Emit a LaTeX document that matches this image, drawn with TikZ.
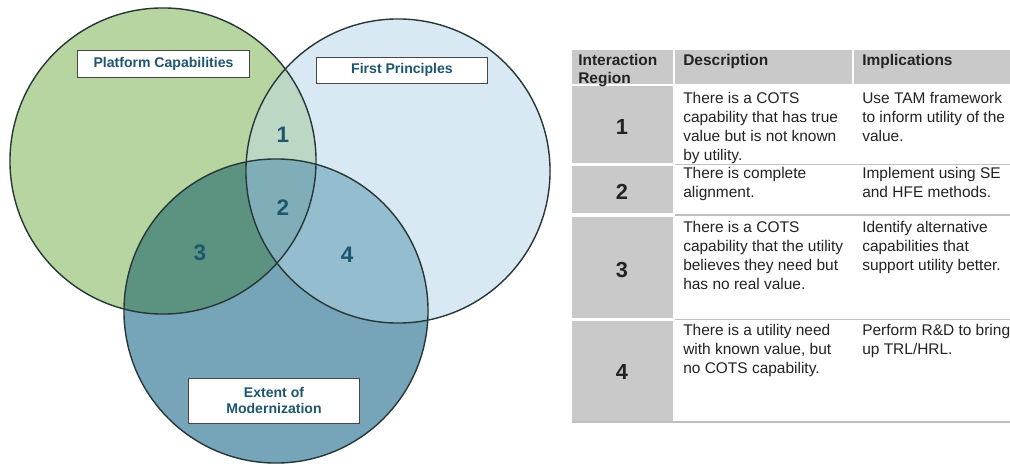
\documentclass[tikz,border=0pt]{standalone}
\usepackage{fontspec}
\setmainfont{Liberation Sans}
\usepackage{tikz}
\usetikzlibrary{positioning}

\definecolor{greenset}{RGB}{182,213,160}
\definecolor{blueset}{RGB}{216,233,243}
\definecolor{modset}{RGB}{118,164,184}
\definecolor{greenblue}{RGB}{188,215,196}
\definecolor{greenmod}{RGB}{92,146,128}
\definecolor{bluemod}{RGB}{148,190,207}
\definecolor{allthree}{RGB}{128,174,184}
\definecolor{ringline}{RGB}{40,55,55}
\definecolor{tagline}{RGB}{70,70,70}
\definecolor{venntext}{RGB}{30,86,112}
\definecolor{celltext}{RGB}{35,35,35}
\definecolor{tablegray}{RGB}{201,201,201}
\definecolor{rowline}{RGB}{192,192,192}

\begin{document}
\begin{tikzpicture}[x=0.025cm,y=-0.025cm,
	ring/.style={draw=ringline,line width=1pt},
	tag/.style={draw=tagline,fill=white,line width=0.6pt,minimum width=4.28cm,inner sep=1pt,
		font=\bfseries\fontsize{10}{11.4}\selectfont,text=venntext,align=center},
	region/.style={font=\bfseries\fontsize{16}{18}\selectfont,text=venntext},
	cell/.style={anchor=north west,inner sep=0,align=left,
		font=\fontsize{11}{13.3}\selectfont,text=celltext},
	head/.style={cell,font=\bfseries\fontsize{11}{13}\selectfont},
	rownum/.style={font=\bfseries\fontsize{15.5}{18}\selectfont,text=celltext}]
	\useasboundingbox (0,0) rectangle (1010,464);
	\fill[white] (0,0) rectangle (1010,464);
	
	%centres
	\coordinate (pc) at (163,161);
	\coordinate (fp) at (398,171);
	\coordinate (em) at (276,311);
	
	%circles
	\fill[greenset] (pc) circle[radius=3.825cm];
	\fill[blueset] (fp) circle[radius=3.8cm];
	\fill[modset] (em) circle[radius=3.8cm];
	\begin{scope}	%region 1
		\clip (pc) circle[radius=3.825cm];
		\fill[greenblue] (fp) circle[radius=3.8cm];
	\end{scope}
	\begin{scope}	%region 3
		\clip (pc) circle[radius=3.825cm];
		\fill[greenmod] (em) circle[radius=3.8cm];
	\end{scope}
	\begin{scope}	%region 4
		\clip (fp) circle[radius=3.8cm];
		\fill[bluemod] (em) circle[radius=3.8cm];
	\end{scope}
	\begin{scope}	%region 2
		\clip (pc) circle[radius=3.825cm];
		\clip (fp) circle[radius=3.8cm];
		\fill[allthree] (em) circle[radius=3.8cm];
	\end{scope}
	\draw[ring] (pc) circle[radius=3.825cm];
	\draw[ring] (fp) circle[radius=3.8cm];
	\draw[ring] (em) circle[radius=3.8cm];
	
	%set labels
	\node[tag,minimum height=0.675cm] (pcap) at (163.5,63.5) {Platform Capabilities};
	\node[tag,minimum height=0.65cm] (fprin) at (402,70) {First Principles};
	\node[tag,minimum height=1.125cm] (emod) at (274,400.5) {Extent of\\Modernization};
	
	%region numbers
	\node[region] (r1) at (283,135) {1};
	\node[region] (r2) at (283,208) {2};
	\node[region] (r3) at (200,253) {3};
	\node[region] (r4) at (347,255) {4};
	
	%table - grey cells
	\fill[tablegray] (572,50) rectangle (673,84);
	\fill[tablegray] (675,50) rectangle (852,84);
	\fill[tablegray] (854,50) rectangle (1010,84);
	\fill[tablegray] (572,86) rectangle (673,163);
	\fill[tablegray] (572,166) rectangle (673,213);
	\fill[tablegray] (572,217) rectangle (673,318);
	\fill[tablegray] (572,321) rectangle (673,421);
	%table - row lines
	\draw[rowline,line width=0.8pt] (675,164.5) -- (1010,164.5);
	\draw[rowline,line width=0.8pt] (675,215) -- (1010,215);
	\draw[rowline,line width=0.8pt] (675,319.5) -- (1010,319.5);
	\draw[rowline,line width=0.8pt] (572,422) -- (1010,422);
	
	%table - header
	\node[head] (hreg) at (578,54) {Interaction\\Region};
	\node[head] (hdesc) at (683,54) {Description};
	\node[head] (himpl) at (862,54) {Implications};
	
	%table - rows
	\node[rownum] (n1) at (622,127) {1};
	\node[cell] (d1) at (683,92.5) {There is a COTS\\capability that has true\\value but is not known\\by utility.};
	\node[cell] (i1) at (862,92.5) {Use TAM framework\\to inform utility of the\\value.};
	%
	\node[rownum] (n2) at (622,192) {2};
	\node[cell] (d2) at (683,167.5) {There is complete\\alignment.};
	\node[cell] (i2) at (862,167.5) {Implement using SE\\and HFE methods.};
	%
	\node[rownum] (n3) at (622,270) {3};
	\node[cell] (d3) at (683,221.5) {There is a COTS\\capability that the utility\\believes they need but\\has no real value.};
	\node[cell] (i3) at (862,221.5) {Identify alternative\\capabilities that\\support utility better.};
	%
	\node[rownum] (n4) at (622,372) {4};
	\node[cell] (d4) at (683,324.5) {There is a utility need\\with known value, but\\no COTS capability.};
	\node[cell] (i4) at (862,324.5) {Perform R\&D to bring\\up TRL/HRL.};
\end{tikzpicture}
\end{document}
